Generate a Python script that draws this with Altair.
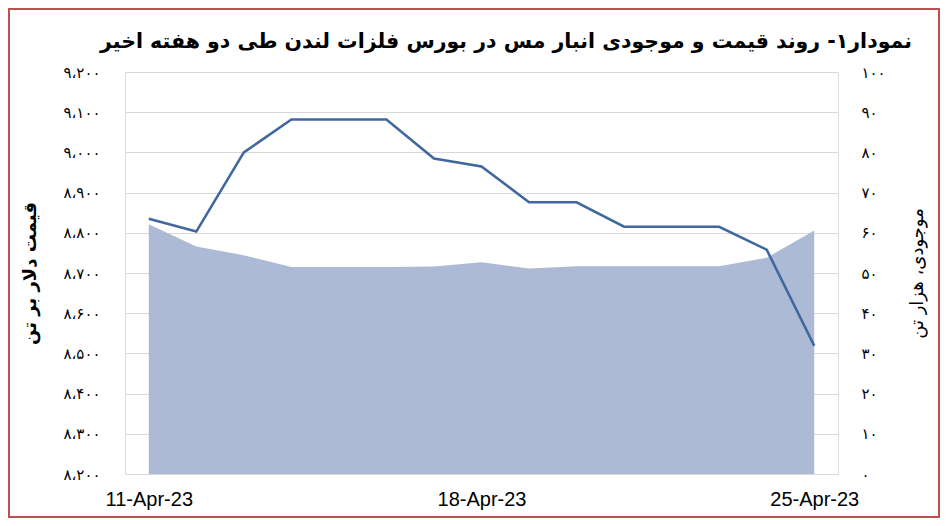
import altair as alt
import pandas as pd

# ---- data ----
dates = ["11-Apr-23", "12-Apr-23", "13-Apr-23", "14-Apr-23", "15-Apr-23",
         "16-Apr-23", "17-Apr-23", "18-Apr-23", "19-Apr-23", "20-Apr-23",
         "21-Apr-23", "22-Apr-23", "23-Apr-23", "24-Apr-23", "25-Apr-23"]
price = [8835, 8803, 9000, 9082, 9082, 9082, 8985, 8965, 8876, 8876,
         8815, 8815, 8815, 8758, 8519]
stock = [62.1, 56.6, 54.4, 51.5, 51.5, 51.5, 51.6, 52.7, 51.1, 51.7,
         51.7, 51.7, 51.7, 53.8, 60.6]

x_label_dates = ["11-Apr-23", "18-Apr-23", "25-Apr-23"]
price_ticks = [8200, 8300, 8400, 8500, 8600, 8700, 8800, 8900, 9000, 9100, 9200]
price_tick_labels = ["۸،۲۰۰", "۸،۳۰۰", "۸،۴۰۰", "۸،۵۰۰", "۸،۶۰۰", "۸،۷۰۰",
                     "۸،۸۰۰", "۸،۹۰۰", "۹،۰۰۰", "۹،۱۰۰", "۹،۲۰۰"]
stock_ticks = [0, 10, 20, 30, 40, 50, 60, 70, 80, 90, 100]
stock_tick_labels = ["۰", "۱۰", "۲۰", "۳۰", "۴۰", "۵۰", "۶۰", "۷۰", "۸۰", "۹۰", "۱۰۰"]

title_text = "نمودار۱- روند قیمت و موجودی انبار مس در بورس فلزات لندن طی دو هفته اخیر"
left_title = "قیمت دلار بر تن"
right_title = "موجودی، هزار تن"

df = pd.DataFrame({"date": dates, "price": price, "stock": stock})


def label_expr(vals, labels):
    parts = [f"datum.value == {v} ? '{l}'" for v, l in zip(vals, labels)]
    return " : ".join(parts) + " : ''"


FONT = "DejaVu Sans"
W, H = 713, 402
PL, PT, PR, PB = 117, 64, 102, 44

xenc = alt.X(
    "date:O",
    sort=dates,
    scale=alt.Scale(type="point", padding=0.5),
    axis=alt.Axis(
        values=x_label_dates, labelAngle=0, ticks=False, title=None,
        labelFont="Liberation Sans", labelFontSize=20, labelColor="#000000",
        labelPadding=15, domainColor="#D9D9D9", domainWidth=1, grid=False,
    ),
)

area = alt.Chart(df).mark_area(color="#ADBAD6", opacity=1).encode(
    x=xenc,
    y=alt.Y(
        "stock:Q",
        scale=alt.Scale(domain=[0, 100], nice=False),
        axis=alt.Axis(
            orient="right", values=stock_ticks,
            labelExpr=label_expr(stock_ticks, stock_tick_labels),
            ticks=False, domain=False, grid=False,
            labelFont=FONT, labelFontSize=15, labelColor="#000000",
            labelPadding=23, labelAlign="left",
            title=right_title, titleFont=FONT, titleFontSize=18,
            titleFontWeight="normal", titleColor="#000000",
            titleAngle=-90, titleX=79, titleY=H / 2,
            titleAlign="center", titleBaseline="middle",
        ),
    ),
)

line = alt.Chart(df).mark_line(color="#41689E", strokeWidth=2.6).encode(
    x=xenc,
    y=alt.Y(
        "price:Q",
        scale=alt.Scale(domain=[8200, 9200], nice=False, zero=False),
        axis=alt.Axis(
            orient="left", values=price_ticks,
            labelExpr=label_expr(price_ticks, price_tick_labels),
            ticks=False, domain=False, grid=True,
            gridColor="#D9D9D9", gridWidth=1,
            labelFont=FONT, labelFontSize=15, labelColor="#000000",
            labelPadding=25,
            title=left_title, titleFont=FONT, titleFontSize=18,
            titleFontWeight="bold", titleColor="#000000",
            titleAngle=-90, titleX=-95, titleY=H / 2,
            titleAlign="center", titleBaseline="middle",
        ),
    ),
)

one = pd.DataFrame({"t": [title_text]})

frame = alt.Chart(one).mark_rect(
    filled=False, stroke="#C0504D", strokeWidth=2
).encode(
    x=alt.value(-PL + 1), x2=alt.value(W + PR - 1),
    y=alt.value(-PT + 1), y2=alt.value(H + PB - 1),
)

title = alt.Chart(one).mark_text(
    font=FONT, fontSize=20.5, fontWeight="bold", color="#000000",
    align="center", baseline="middle",
).encode(
    text="t:N",
    x=alt.value(381),
    y=alt.value(-30),
)

chart = (
    alt.layer(area, line, frame, title)
    .resolve_scale(y="independent")
    .properties(
        width=W, height=H,
        autosize=alt.AutoSizeParams(type="none"),
        padding={"left": PL, "top": PT, "right": PR, "bottom": PB},
    )
    .configure_view(strokeWidth=0, stroke="transparent")
    .configure(background="#FFFFFF")
)

chart.save("out.html", embed_options={"renderer": "svg", "actions": False})
